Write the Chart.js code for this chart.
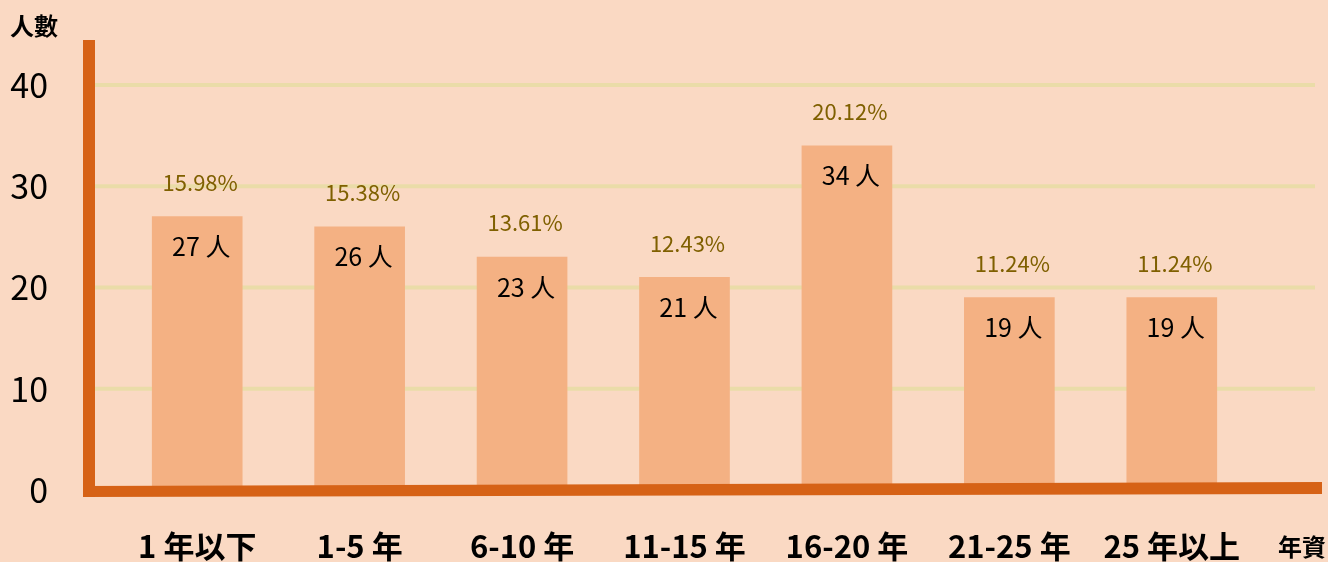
<!DOCTYPE html>
<html lang="zh-Hant">
<head>
<meta charset="utf-8">
<title>年資分布</title>
<script src="https://cdn.jsdelivr.net/npm/chart.js@4.4.1/dist/chart.umd.min.js"></script>
<style>
  html, body { margin: 0; padding: 0; background: #FAD9C3; }
  canvas { display: block; }
</style>
</head>
<body>
<canvas id="c" width="1328" height="562"></canvas>
<script>
// 年資分組
const categories = ['1 年以下', '1-5 年', '6-10 年', '11-15 年', '16-20 年', '21-25 年', '25 年以上'];
// 各組人數
const headcount = [27, 26, 23, 21, 34, 19, 19];
// 各組占比 (%)
const shares = ['15.98%', '15.38%', '13.61%', '12.43%', '20.12%', '11.24%', '11.24%'];
// 縱軸刻度
const yTicks = [0, 10, 20, 30, 40];

const FONT = '"Noto Sans CJK TC", "Noto Sans", sans-serif';
const AXIS_COLOR = '#D66216';
const GRID_COLOR = '#EADCA8';

const decorations = {
  id: 'decorations',
  beforeDatasetsDraw(chart) {
    const { ctx, chartArea, scales } = chart;
    const y = scales.y;
    ctx.save();
    ctx.strokeStyle = GRID_COLOR;
    ctx.lineWidth = 4;
    yTicks.filter(v => v > 0).forEach(v => {
      const py = y.getPixelForValue(v);
      ctx.beginPath();
      ctx.moveTo(chartArea.left - 21, py);
      ctx.lineTo(chartArea.right + 62, py);
      ctx.stroke();
    });
    ctx.restore();
  },
  afterDatasetsDraw(chart) {
    const { ctx, chartArea, scales } = chart;
    const y = scales.y;
    const base = y.getPixelForValue(0);
    const axL = chartArea.left - 33;   // outer edge of vertical axis
    const axR = chartArea.right + 69;  // end of horizontal axis
    ctx.save();
    ctx.fillStyle = AXIS_COLOR;
    // horizontal axis, slightly tilted
    ctx.beginPath();
    ctx.moveTo(axL, base - 4);
    ctx.lineTo(axR, base - 8);
    ctx.lineTo(axR, base + 4);
    ctx.lineTo(axL, base + 7);
    ctx.closePath();
    ctx.fill();
    // vertical axis
    const top = y.getPixelForValue(40) - 45;
    ctx.fillRect(axL, top, 12, base + 7 - top);

    // bar labels
    const meta = chart.getDatasetMeta(0);
    ctx.textAlign = 'center';
    ctx.textBaseline = 'middle';
    meta.data.forEach((bar, i) => {
      ctx.fillStyle = '#7F6000';
      ctx.font = '22px ' + FONT;
      ctx.fillText(shares[i], bar.x + 3, bar.y - 34);
      ctx.fillStyle = '#000000';
      ctx.font = '25px ' + FONT;
      ctx.fillText(headcount[i] + ' 人', bar.x + 4, bar.y + 30);
    });

    // axis titles
    ctx.font = 'bold 24px ' + FONT;
    ctx.fillStyle = '#000000';
    ctx.textAlign = 'left';
    ctx.fillText('人數', 10, 26);
    ctx.textAlign = 'right';
    ctx.fillText('年資', 1326, 547);
    ctx.restore();
  }
};

new Chart(document.getElementById('c'), {
  type: 'bar',
  data: {
    labels: categories,
    datasets: [{
      data: headcount,
      backgroundColor: '#F4B183',
      borderWidth: 0,
      barThickness: 90
    }]
  },
  options: {
    responsive: false,
    animation: false,
    devicePixelRatio: 1,
    layout: { padding: { top: 85, left: 10, right: 75, bottom: 0 } },
    plugins: { legend: { display: false }, tooltip: { enabled: false } },
    scales: {
      x: {
        grid: { display: false, drawTicks: false },
        border: { display: false },
        afterFit(scale) { scale.height = 72; },
        ticks: {
          padding: 38,
          color: '#000000',
          font: { family: FONT, size: 31, weight: 'bold' }
        }
      },
      y: {
        min: 0,
        max: 40,
        grid: { display: false, drawTicks: false },
        border: { display: false },
        afterFit(scale) {
          scale.width = 106;
          scale.paddingTop = 0;
          scale.paddingBottom = 0;
        },
        afterBuildTicks(scale) { scale.ticks = yTicks.map(v => ({ value: v })); },
        ticks: {
          padding: 68,
          color: '#000000',
          font: { family: FONT, size: 34 }
        }
      }
    }
  },
  plugins: [decorations]
});
</script>
</body>
</html>
